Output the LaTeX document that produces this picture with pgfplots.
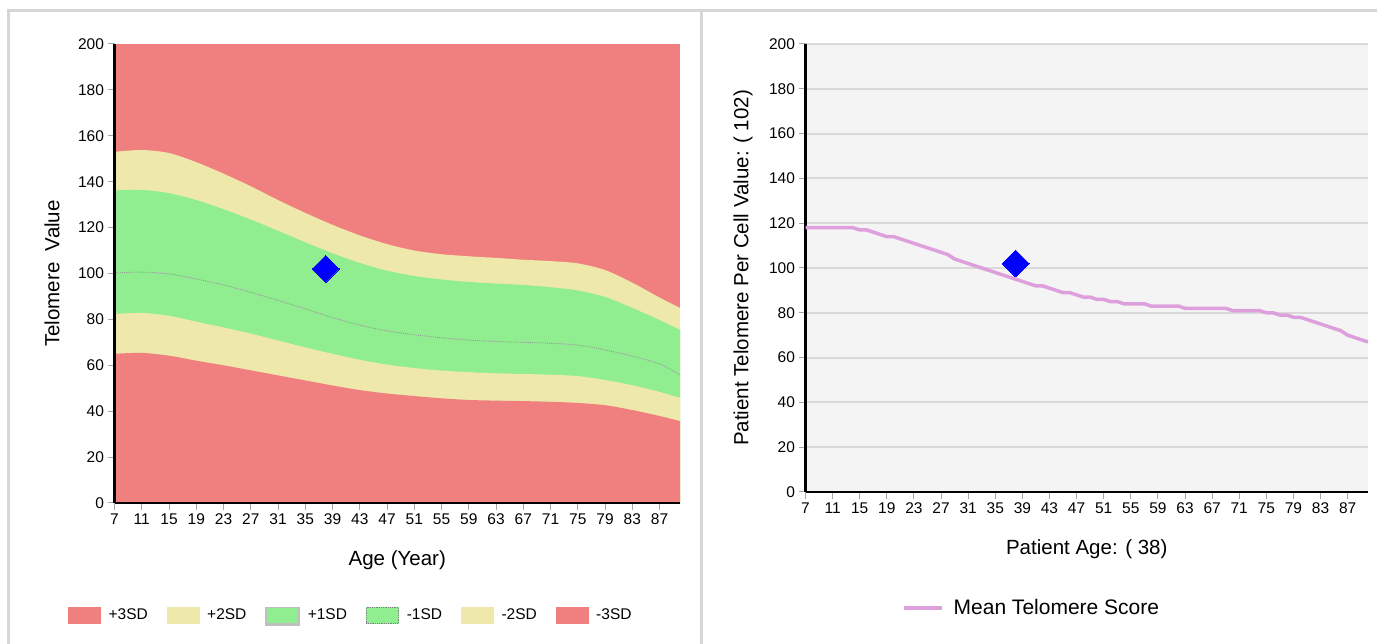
\documentclass[border=0pt]{standalone}
\usepackage{fontspec}
\setmainfont{Liberation Sans}
\usepackage{pgfplots}
\usepackage{pgfplotstable}
\pgfplotsset{compat=1.18}
\definecolor{lc}{HTML}{F08080}
\definecolor{pg}{HTML}{EEE8AA}
\definecolor{lg}{HTML}{90EE90}
\definecolor{plumc}{HTML}{DDA0DD}
\definecolor{bgg}{HTML}{F4F4F4}
\definecolor{gridc}{HTML}{D9D9D9}
\definecolor{framec}{HTML}{D6D6D6}

\pgfplotstableread{
age b1 b2 mean b3 b4
7 65 82.4 100.2 136.2 153
11 65.4 82.8 100.6 136.4 153.8
15 64.2 81.6 99.8 135 152.5
19 62 79 97.6 132 148.5
23 60 76.5 95 128 143.5
27 57.8 73.8 91.8 123.5 138
31 55.6 70.8 88.3 118.6 132
35 53.4 67.8 84.6 113.6 126.4
39 51.2 65 80.8 108.8 121.2
43 49.2 62.4 77.5 104.6 116.6
47 47.7 60.3 75 101.2 112.8
51 46.6 58.8 73.3 98.9 110
55 45.6 57.7 72 97.4 108.4
59 44.9 57 71 96.3 107.5
63 44.6 56.5 70.4 95.6 106.8
67 44.4 56.2 70 95 106
71 44.1 55.9 69.6 94 105.4
75 43.6 55.3 68.8 92.6 104.4
79 42.6 53.6 66.7 89.8 101.5
83 40.5 51.3 64 85 96
87 37.9 48.4 60.6 79.7 89.5
90 35.7 45.8 55.8 75.4 85
}\bands

\pgfplotstableread{
age v
7 118
8 118
9 118
10 118
11 118
12 118
13 118
14 118
15 117
16 117
17 116
18 115
19 114
20 114
21 113
22 112
23 111
24 110
25 109
26 108
27 107
28 106
29 104
30 103
31 102
32 101
33 100
34 99
35 98
36 97
37 96
38 95
39 94
40 93
41 92
42 92
43 91
44 90
45 89
46 89
47 88
48 87
49 87
50 86
51 86
52 85
53 85
54 84
55 84
56 84
57 84
58 83
59 83
60 83
61 83
62 83
63 82
64 82
65 82
66 82
67 82
68 82
69 82
70 81
71 81
72 81
73 81
74 81
75 80
76 80
77 79
78 79
79 78
80 78
81 77
82 76
83 75
84 74
85 73
86 72
87 70
88 69
89 68
90 67
}\meanline

\pgfplotsset{
  boxleg/.style={legend image code/.code={\fill[#1] (0pt,-8pt) rectangle (32pt,8pt);}},
  myaxis/.style={
    scale only axis,
    xmin=7, xmax=90, ymin=0, ymax=200,
    xtick={7,11,...,87}, ytick={0,20,...,200},
    axis lines*=left,
    axis line style={black, line width=2.5pt},
    tick style={gray!70, line width=1pt},
    major tick length=7pt,
    tick align=outside,
    ticklabel style={font=\fontsize{15.5}{17}\selectfont},
    /pgf/number format/assume math mode=true,
    legend style={draw=none, fill=none, font=\fontsize{15.5}{18}\selectfont, anchor=center,
      /tikz/every odd column/.append style={column sep=6pt}},
  },
}

\begin{document}
\begin{tikzpicture}
\useasboundingbox (0pt,0pt) rectangle (1377pt,644pt);
\fill[white] (0pt,0pt) rectangle (1377pt,644pt);
\draw[framec, line width=3pt] (8pt,0pt) -- (8pt,633pt) -- (1377pt,633pt);
\draw[framec, line width=3pt] (701pt,0pt) -- (701pt,633pt);

% ---------- left chart ----------
\begin{axis}[
  myaxis,
  at={(114.5pt,141pt)}, anchor=south west,
  width=565.5pt, height=459pt,
  axis on top,
  axis background/.style={fill=lc},
  xlabel={Age (Year)},
  ylabel={Telomere\ \ Value},
  every axis x label/.style={at={(axis description cs:0.5,-0.1242)}, anchor=center, font=\fontsize{20.5}{24}\selectfont},
  every axis y label/.style={at={(axis description cs:-0.1105,0.5)}, anchor=center, rotate=90, font=\fontsize{20.5}{24}\selectfont},
  legend columns=6,
  legend style={at={(axis description cs:0.418,-0.2465)},
    /tikz/every even column/.append style={column sep=17pt}},
]
\addplot[fill=pg, draw=none, smooth, forget plot] table[x=age,y=b4] {\bands} \closedcycle;
\addplot[fill=lg, draw=none, smooth, forget plot] table[x=age,y=b3] {\bands} \closedcycle;
\addplot[fill=pg, draw=none, smooth, forget plot] table[x=age,y=b2] {\bands} \closedcycle;
\addplot[fill=lc, draw=none, smooth, forget plot] table[x=age,y=b1] {\bands} \closedcycle;
\addplot[gray!80, densely dotted, line width=0.9pt, smooth, forget plot] table[x=age,y=mean] {\bands};
\addplot[blue, only marks, mark=square*, mark size=9.5pt, mark options={rotate=45, fill=blue, draw=blue, line width=0pt}, forget plot] coordinates {(38,102)};
\addlegendimage{boxleg=lc}
\addlegendentry{+3SD}
\addlegendimage{boxleg=pg}
\addlegendentry{+2SD}
\addlegendimage{legend image code/.code={\fill[gray!50] (-1pt,-10pt) rectangle (33pt,8pt);\fill[lg] (1pt,-7pt) rectangle (31pt,7pt);}}
\addlegendentry{+1SD}
\addlegendimage{legend image code/.code={\fill[lg] (0pt,-8pt) rectangle (32pt,8pt);\draw[gray, densely dotted, line width=0.8pt] (0pt,-8pt) rectangle (32pt,8pt);}}
\addlegendentry{-1SD}
\addlegendimage{boxleg=pg}
\addlegendentry{-2SD}
\addlegendimage{boxleg=lc}
\addlegendentry{-3SD}
\end{axis}

% ---------- right chart ----------
\begin{axis}[
  myaxis,
  at={(805.5pt,152pt)}, anchor=south west,
  width=562.5pt, height=448pt,
  axis background/.style={fill=bgg},
  ymajorgrids,
  grid style={gridc, line width=2pt},
  xlabel={Patient Age: ( 38)},
  ylabel={Patient Telomere Per Cell Value: ( 102)},
  every axis x label/.style={at={(axis description cs:0.5,-0.127)}, anchor=center, font=\fontsize{20.5}{24}\selectfont},
  every axis y label/.style={at={(axis description cs:-0.111,0.5)}, anchor=center, rotate=90, font=\fontsize{20.5}{24}\selectfont},
  legend style={at={(axis description cs:0.402,-0.259)}, font=\fontsize{21}{24}\selectfont,
    /tikz/every odd column/.append style={column sep=8pt}},
  legend image code/.code={\draw[#1] (0pt,0pt) -- (38pt,0pt);},
]
\addplot[plumc, line width=3.5pt] table[x=age,y=v] {\meanline};
\addlegendentry{Mean Telomere Score}
\addplot[blue, only marks, mark=square*, mark size=9.5pt, mark options={rotate=45, fill=blue, draw=blue, line width=0pt}, forget plot] coordinates {(38,102)};
\end{axis}
\end{tikzpicture}
\end{document}
